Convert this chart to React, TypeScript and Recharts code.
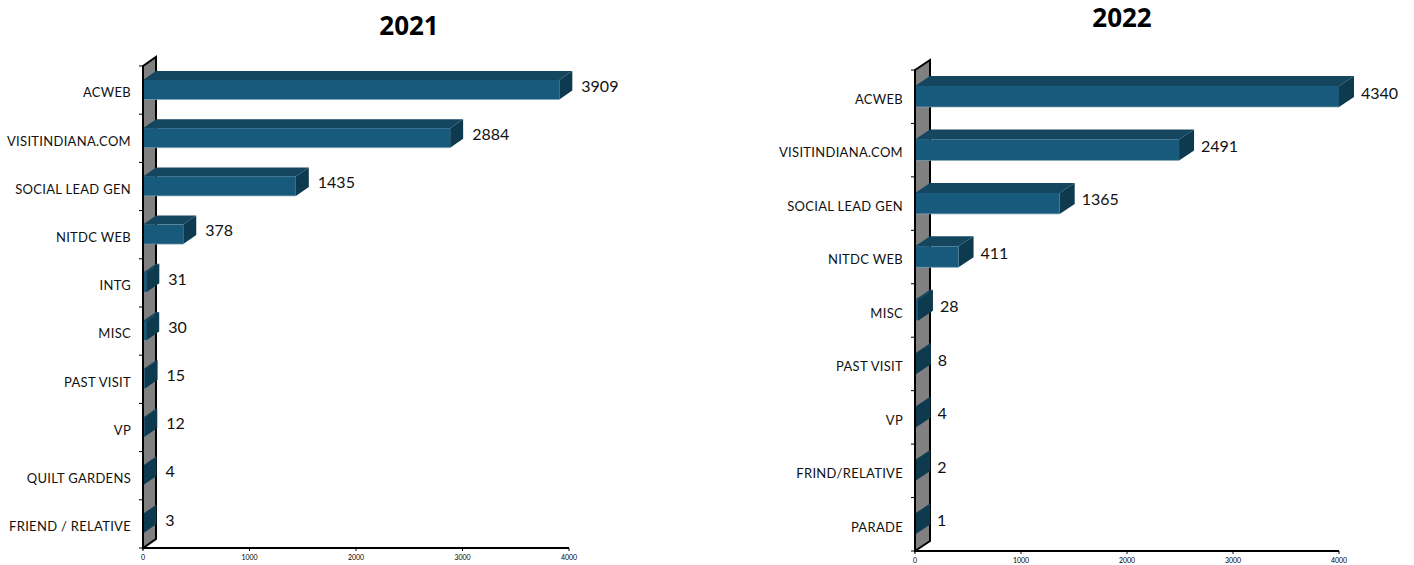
import { BarChart, Bar, XAxis, YAxis, ReferenceArea } from 'recharts'

const categories2021 = [
  'ACWEB',
  'VISITINDIANA.COM',
  'SOCIAL LEAD GEN',
  'NITDC WEB',
  'INTG',
  'MISC',
  'PAST VISIT',
  'VP',
  'QUILT GARDENS',
  'FRIEND / RELATIVE',
]
const values2021 = [3909, 2884, 1435, 378, 31, 30, 15, 12, 4, 3]

const categories2022 = [
  'ACWEB',
  'VISITINDIANA.COM',
  'SOCIAL LEAD GEN',
  'NITDC WEB',
  'MISC',
  'PAST VISIT',
  'VP',
  'FRIND/RELATIVE',
  'PARADE',
]
const values2022 = [4340, 2491, 1365, 411, 28, 8, 4, 2, 1]

const xTicks = [0, 1000, 2000, 3000, 4000]
const AXIS_MAX = 4000

const FONT = 'Lato, "Open Sans", sans-serif'

// the stock tick wraps long names, this one keeps them on one line
const CategoryTick = (props: any) => {
  const { x, y, payload } = props
  return (
    <text
      x={x - 6}
      y={y + 4}
      textAnchor="end"
      dominantBaseline="middle"
      fontSize={13}
      letterSpacing={0.3}
      fontFamily={FONT}
      fill="#111"
    >
      {payload.value}
    </text>
  )
}

const ValueTick = (props: any) => {
  const { x, y, payload } = props
  return (
    <text x={x} y={y + 7} textAnchor="middle" fontSize={7} fontFamily={FONT} fill="#000">
      {payload.value}
    </text>
  )
}

interface PanelProps {
  title: string
  categories: string[]
  values: number[]
  left: number
  width: number
  plotLeft: number
  plotRight: number
  plotTop: number
  plotBottom: number
  barSize: number
  depthX: number
  depthY: number
  titleX: number
  titleY: number
}

function Panel(p: PanelProps) {
  const height = 565
  const data = p.categories.map((name, i) => ({
    name,
    value: p.values[i],
    // bars stop at the end of the axis, the label keeps the real number
    plotted: Math.min(p.values[i], AXIS_MAX),
  }))
  const dx = p.depthX
  const dy = p.depthY

  const Wall = (props: any) => {
    const { x, y, height: h } = props
    const bands = p.categories.length
    return (
      <g>
        <polygon
          points={`${x},${y} ${x + dx},${y - dy} ${x + dx},${y + h - dy} ${x},${y + h}`}
          fill="#808080"
          stroke="#000"
          strokeWidth={2}
        />
        {Array.from({ length: bands + 1 }, (_, i) => (
          <line
            key={i}
            x1={x - 4}
            x2={x}
            y1={y + (h * i) / bands}
            y2={y + (h * i) / bands}
            stroke="#000"
            strokeWidth={1}
          />
        ))}
      </g>
    )
  }

  const Prism = (props: any) => {
    const { x, y, width: w, height: h, payload } = props
    return (
      <g>
        <polygon
          points={`${x},${y} ${x + dx},${y - dy} ${x + w + dx},${y - dy} ${x + w},${y}`}
          fill="#15465f"
        />
        <polygon
          points={`${x + w},${y} ${x + w + dx},${y - dy} ${x + w + dx},${y + h - dy} ${x + w},${y + h}`}
          fill="#0e3a50"
        />
        <rect x={x} y={y} width={w} height={h} fill="#175a7c" />
        <line x1={x} x2={x + w} y1={y + h} y2={y + h} stroke="#7fa3b6" strokeWidth={0.7} />
        <text
          x={x + w + 22}
          y={y + h / 2 - 2}
          fontSize={16}
          fontFamily={FONT}
          fill="#111"
          dominantBaseline="middle"
        >
          {payload.value}
        </text>
      </g>
    )
  }

  return (
    <div style={{ position: 'absolute', left: p.left, top: 0, width: p.width, height }}>
      <div
        style={{
          position: 'absolute',
          left: p.titleX - p.left - 60,
          top: p.titleY - 18,
          width: 120,
          textAlign: 'center',
          fontFamily: '"Open Sans", sans-serif',
          fontWeight: 700,
          fontSize: 26,
          lineHeight: '36px',
          color: '#000',
        }}
      >
        {p.title}
      </div>
      <BarChart
        width={p.width}
        height={height}
        data={data}
        layout="vertical"
        barCategoryGap={0}
        margin={{
          top: p.plotTop,
          right: p.left + p.width - p.plotRight,
          bottom: 0,
          left: 0,
        }}
      >
        <XAxis
          type="number"
          domain={[0, AXIS_MAX]}
          ticks={xTicks}
          height={height - p.plotBottom}
          tickSize={3}
          stroke="#000"
          axisLine={{ stroke: '#000', strokeWidth: 2 }}
          tickLine={{ stroke: '#000' }}
          tick={ValueTick}
        />
        <YAxis
          type="category"
          dataKey="name"
          width={p.plotLeft - p.left}
          interval={0}
          tickLine={false}
          tickMargin={0}
          stroke="#000"
          axisLine={{ stroke: '#000', strokeWidth: 2 }}
          tick={CategoryTick}
        />
        <ReferenceArea x1={0} x2={AXIS_MAX} ifOverflow="visible" shape={Wall} />
        <Bar
          dataKey="plotted"
          barSize={p.barSize}
          isAnimationActive={false}
          shape={Prism}
        />
      </BarChart>
    </div>
  )
}

export default function App() {
  return (
    <div style={{ position: 'absolute', left: 0, top: 0, width: 1414, height: 565, background: '#fff' }}>
      <Panel
        title="2021"
        categories={categories2021}
        values={values2021}
        left={0}
        width={700}
        plotLeft={143}
        plotRight={569}
        plotTop={66}
        plotBottom={548}
        barSize={19.5}
        depthX={13}
        depthY={9}
        titleX={409}
        titleY={25}
      />
      <Panel
        title="2022"
        categories={categories2022}
        values={values2022}
        left={700}
        width={714}
        plotLeft={915}
        plotRight={1339}
        plotTop={70}
        plotBottom={551}
        barSize={21}
        depthX={15}
        depthY={10}
        titleX={1122}
        titleY={17}
      />
    </div>
  )
}
